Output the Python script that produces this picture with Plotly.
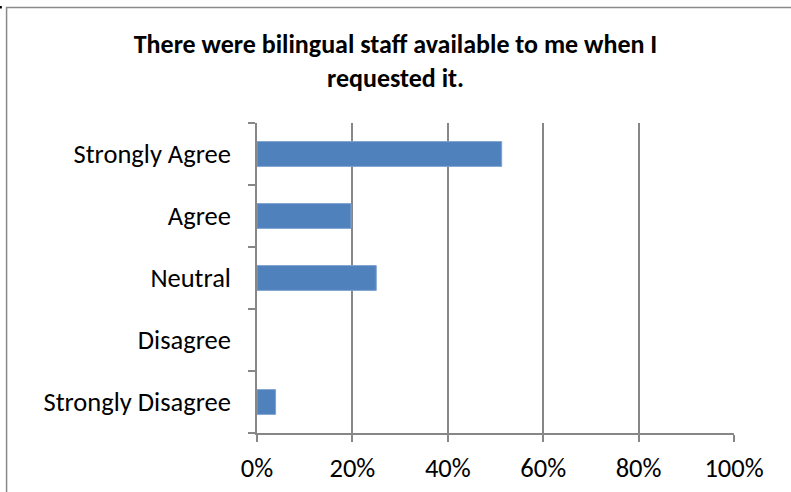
import plotly.graph_objects as go

# Survey responses (share of respondents)
categories = ["Strongly Agree", "Agree", "Neutral", "Disagree", "Strongly Disagree"]
shares = [0.513, 0.197, 0.250, 0.0, 0.039]
x_ticks = [0, 0.2, 0.4, 0.6, 0.8, 1.0]
x_tick_labels = ["0%", "20%", "40%", "60%", "80%", "100%"]
title_text = "There were bilingual staff available to me when I<br>requested it."

FONT = "Carlito, Lato, sans-serif"
GRID = "#878787"

fig = go.Figure(
    go.Bar(
        x=shares,
        y=categories,
        orientation="h",
        width=0.4,
        marker=dict(
            color="#4F81BD",
            line=dict(color="#7FA3D1", width=[1 if v > 0 else 0 for v in shares]),
        ),
    )
)

fig.update_layout(
    width=791,
    height=492,
    margin=dict(l=257, r=57, t=123, b=59, autoexpand=False),
    paper_bgcolor="white",
    plot_bgcolor="white",
    showlegend=False,
    title=dict(
        text="<b>" + title_text + "</b>",
        x=0.5,
        xanchor="center",
        y=0.892,
        yanchor="middle",
        font=dict(family=FONT, size=26, color="black"),
    ),
    bargap=0.6,
)

fig.update_xaxes(
    range=[0, 1],
    tickvals=x_ticks,
    ticktext=x_tick_labels,
    showgrid=True,
    gridcolor=GRID,
    gridwidth=1.5,
    zeroline=False,
    showline=True,
    linecolor=GRID,
    linewidth=1.5,
    ticks="outside",
    ticklen=7,
    tickcolor=GRID,
    tickwidth=1.5,
    ticklabelstandoff=3,
    automargin=False,
    tickfont=dict(family=FONT, size=26.5, color="black"),
    fixedrange=True,
)

fig.update_yaxes(
    categoryorder="array",
    categoryarray=categories[::-1],
    showgrid=False,
    zeroline=False,
    showline=True,
    linecolor=GRID,
    linewidth=1.5,
    ticks="outside",
    tickson="boundaries",
    ticklen=7,
    tickcolor=GRID,
    tickwidth=1.5,
    ticklabelstandoff=19,
    automargin=False,
    tickfont=dict(family=FONT, size=26.5, color="black"),
    fixedrange=True,
)

# Chart frame (top and left edges visible) and corner mark
fig.add_shape(
    type="rect", xref="paper", yref="paper",
    x0=-0.525, x1=1.3, y0=-0.3, y1=1.3726,
    line=dict(color="#8A8A8A", width=1.5),
    layer="below",
)
fig.add_shape(
    type="rect", xref="paper", yref="paper",
    x0=-0.539, x1=-0.5349, y0=1.3694, y1=1.3774,
    line=dict(width=0), fillcolor="black",
)

fig.write_html("out.html", config={"displayModeBar": False})
